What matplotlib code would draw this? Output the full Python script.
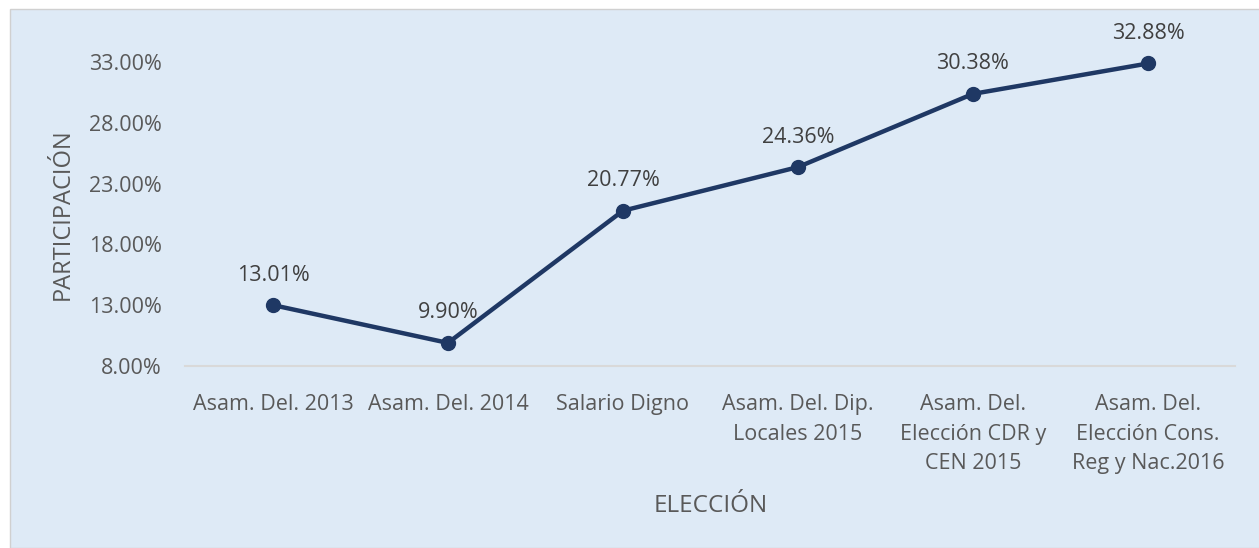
import matplotlib.pyplot as plt
from matplotlib.patches import Rectangle
from matplotlib.ticker import FuncFormatter

elecciones = ['Asam. Del. 2013', 'Asam. Del. 2014', 'Salario Digno',
              'Asam. Del. Dip.\nLocales 2015', 'Asam. Del.\nElección CDR y\nCEN 2015',
              'Asam. Del.\nElección Cons.\nReg y Nac.2016']
participacion = [13.01, 9.90, 20.77, 24.36, 30.38, 32.88]
yticks = [8, 13, 18, 23, 28, 33]

plt.rcParams['font.family'] = ['Open Sans', 'DejaVu Sans']

bg = '#DEEAF6'
navy = '#1F3864'
grey = '#595959'

fig = plt.figure(figsize=(12.59, 5.48), dpi=100)
fig.patch.set_facecolor('white')
fig.patches.append(Rectangle((10 / 1259, 0), 1, 1 - 9 / 548, transform=fig.transFigure,
                             facecolor=bg, edgecolor='#D0D0D0', linewidth=1, zorder=-10))

ax = fig.add_axes([0.1473, 0.3321, 0.834, 0.5547])
ax.patch.set_visible(False)
x = list(range(len(elecciones)))
ax.plot(x, participacion, color=navy, linewidth=3.2, marker='o', markersize=10, clip_on=False)

for xi, v in zip(x, participacion):
    ax.annotate(f'{v:.2f}%', (xi, v), xytext=(0, 14), textcoords='offset points',
                ha='center', va='bottom', fontsize=15.5, color='#404040')

ax.set_xlim(-0.5, len(elecciones) - 0.5)
ax.set_ylim(8, 33)
ax.set_yticks(yticks)
ax.yaxis.set_major_formatter(FuncFormatter(lambda v, p: f'{v:.2f}%'))
ax.set_xticks(x)
ax.set_xticklabels(elecciones, linespacing=1.55)
ax.tick_params(axis='both', length=0, labelsize=15.5, labelcolor=grey)
ax.tick_params(axis='x', pad=20)
ax.tick_params(axis='y', pad=17)

for s in ['top', 'right', 'left']:
    ax.spines[s].set_visible(False)
ax.spines['bottom'].set_color('#D9D9D9')
ax.spines['bottom'].set_linewidth(1.5)

ax.set_ylabel('PARTICIPACIÓN', fontsize=17, color=grey, labelpad=10)
ax.set_xlabel('ELECCIÓN', fontsize=17.5, color=grey, labelpad=14)

fig.savefig('out.png', dpi=100, facecolor=fig.get_facecolor())
